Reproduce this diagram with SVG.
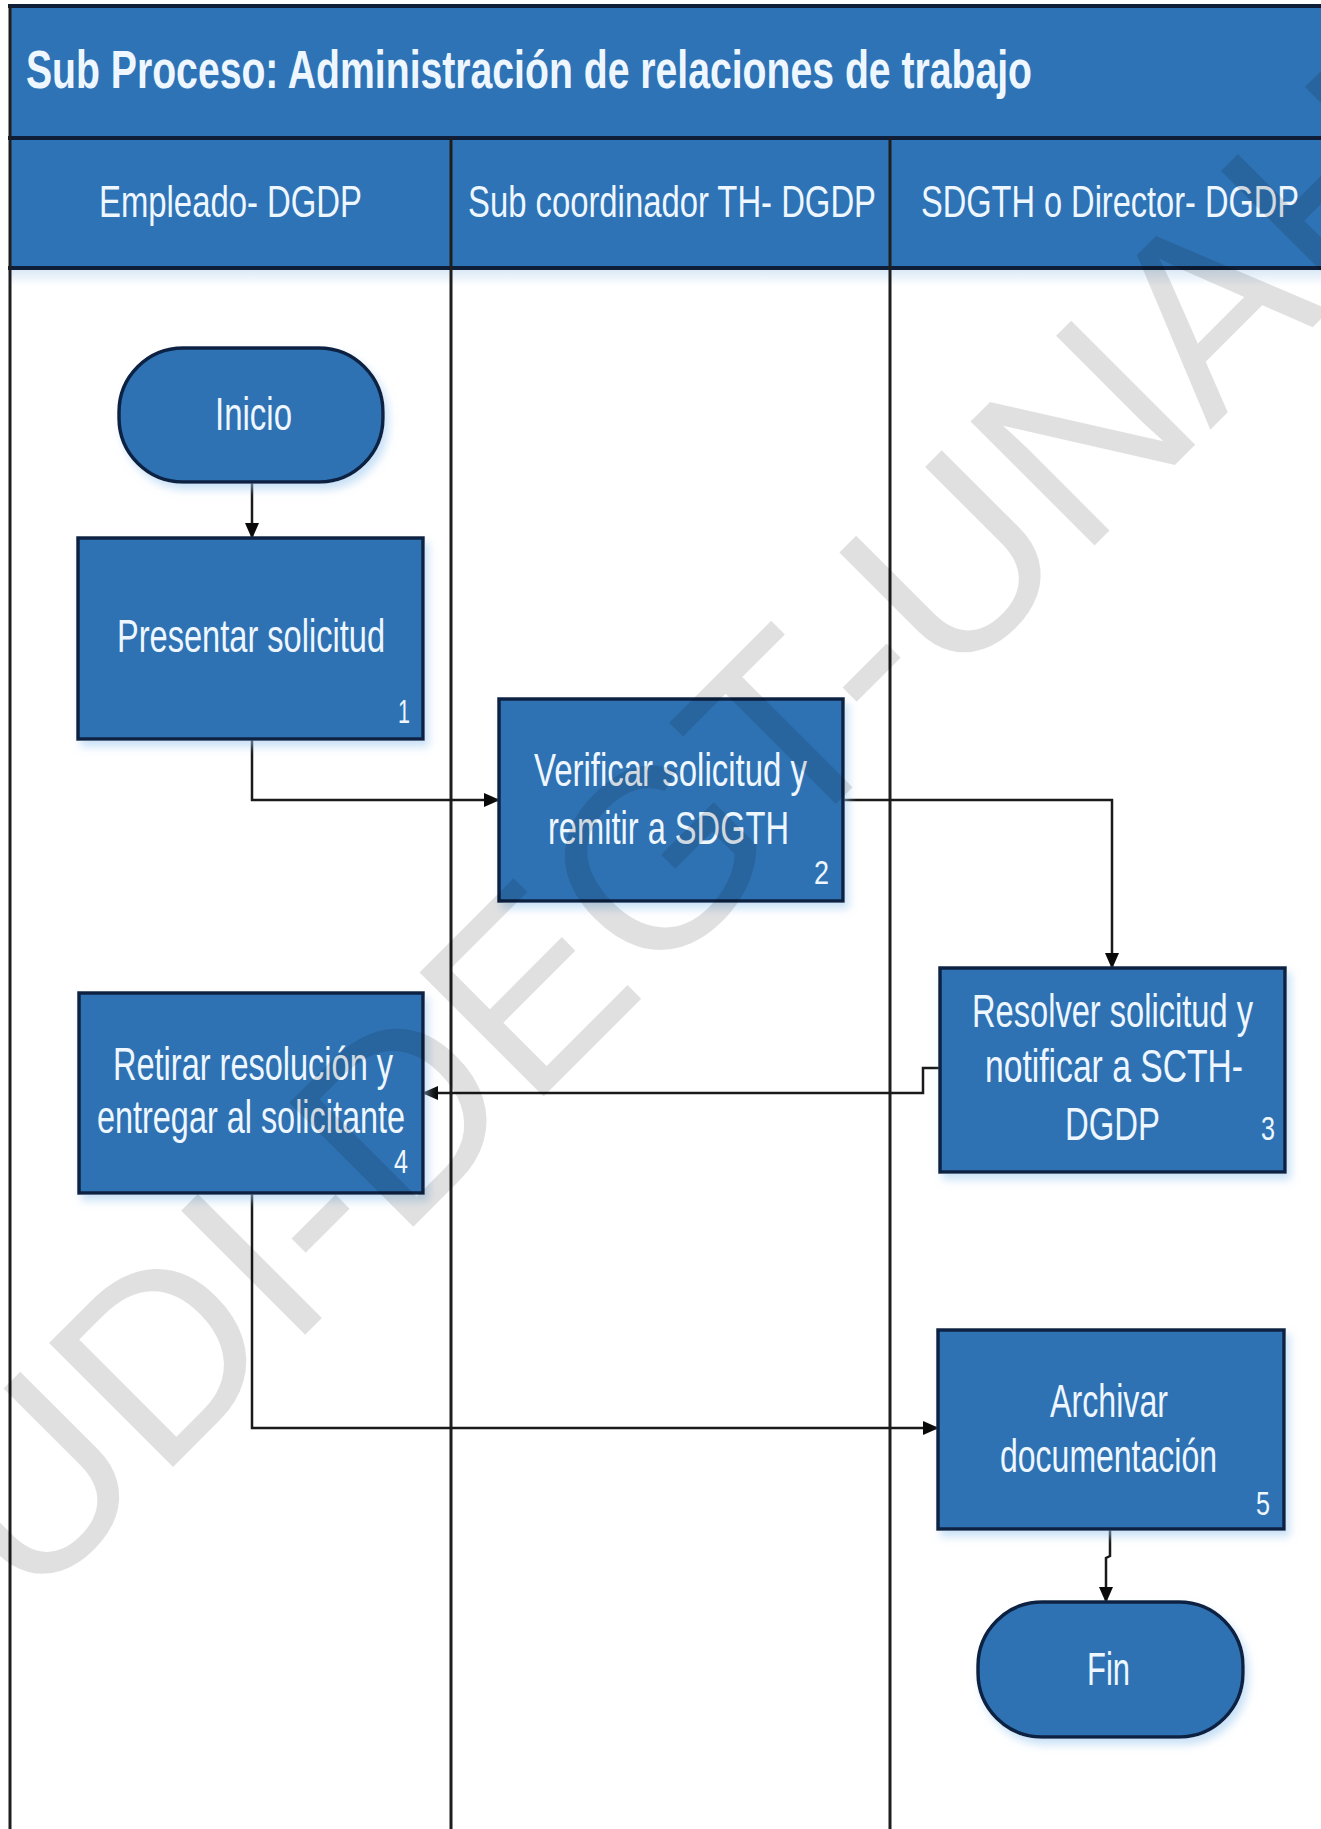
<svg xmlns="http://www.w3.org/2000/svg" width="1321" height="1829" viewBox="0 0 1321 1829">
  <style>
    .band { fill: #2E73B5; }
    .rule { stroke: #0E1E38; stroke-width: 4; }
    .lane { stroke: #1E1E1E; stroke-width: 3; fill: none; }
    .box { fill: #2E72B3; stroke: #0F2343; stroke-width: 3.5; filter: url(#glow); }
    .txt { font-family: "Liberation Sans", Arial, sans-serif; fill: #EEF7FF; }
    .title { font-size: 53px; font-weight: bold; }
    .head { font-size: 44px; }
    .lbl { font-size: 46px; }
    .num { font-size: 33px; }
    .conn path { fill: none; stroke: #1A1A1A; stroke-width: 2.5; }
    .mark { font-family: "Liberation Sans", Arial, sans-serif; font-size: 255px; fill: #000; fill-opacity: 0.12; }
  </style>
  <defs>
    <marker id="arrow" markerUnits="userSpaceOnUse" markerWidth="16" markerHeight="16" viewBox="0 0 16 16" refX="15" refY="8" orient="auto">
      <path d="M0,1 L16,8 L0,15 Z" fill="#0A0A0A"/>
    </marker>
    <filter id="glow" x="-10%" y="-10%" width="125%" height="130%">
      <feDropShadow dx="4" dy="6" stdDeviation="4" flood-color="#9CC8F0" flood-opacity="0.55"/>
    </filter>
    <linearGradient id="fade" x1="0" y1="0" x2="0" y2="1">
      <stop offset="0" stop-color="#D6E6F5"/>
      <stop offset="1" stop-color="#FFFFFF"/>
    </linearGradient>
  </defs>

  <!-- page -->
  <rect width="1321" height="1829" fill="#FFFFFF"/>
  <rect x="10" y="268" width="1311" height="18" fill="url(#fade)"/>

  <!-- title band and lane header band -->
  <g id="header">
    <rect class="band" x="10" y="6" width="1311" height="132"/>
    <rect class="band" x="10" y="138" width="1311" height="130"/>
    <line class="rule" x1="8" y1="6" x2="1321" y2="6"/>
    <line class="rule" x1="8" y1="138" x2="1321" y2="138"/>
    <line class="rule" x1="8" y1="268" x2="1321" y2="268"/>
    <text class="txt title" x="26" y="88" textLength="1006" lengthAdjust="spacingAndGlyphs">Sub Proceso: Administración de relaciones de trabajo</text>
    <text class="txt head" x="99" y="217" textLength="263" lengthAdjust="spacingAndGlyphs">Empleado- DGDP</text>
    <text class="txt head" x="468" y="217" textLength="408" lengthAdjust="spacingAndGlyphs">Sub coordinador TH- DGDP</text>
    <text class="txt head" x="921" y="217" textLength="378" lengthAdjust="spacingAndGlyphs">SDGTH o Director- DGDP</text>
  </g>

  <!-- swimlane dividers -->
  <g id="lanes">
    <line class="lane" x1="10" y1="6" x2="10" y2="1829"/>
    <line class="lane" x1="451" y1="138" x2="451" y2="1829"/>
    <line class="lane" x1="890" y1="138" x2="890" y2="1829"/>
  </g>

  <!-- connectors -->
  <g id="connectors" class="conn">
    <path d="M252,482 L252,538" marker-end="url(#arrow)"/>
    <path d="M252,739 L252,800 L499,800" marker-end="url(#arrow)"/>
    <path d="M843,800 L1112,800 L1112,968" marker-end="url(#arrow)"/>
    <path d="M940,1068 L923,1068 L923,1093 L423,1093" marker-end="url(#arrow)"/>
    <path d="M252,1193 L252,1428 L938,1428" marker-end="url(#arrow)"/>
    <path d="M1110,1529 L1110,1556 L1106,1558 L1106,1602" marker-end="url(#arrow)"/>
  </g>

  <!-- nodes -->
  <g id="inicio">
    <rect class="box" x="119" y="348" width="264" height="134" rx="64" ry="64"/>
    <text class="txt lbl" x="215" y="430" textLength="77" lengthAdjust="spacingAndGlyphs">Inicio</text>
  </g>

  <g id="paso1">
    <rect class="box" x="78" y="538" width="345" height="201"/>
    <text class="txt lbl" x="117" y="652" textLength="268" lengthAdjust="spacingAndGlyphs">Presentar solicitud</text>
    <text class="txt num" x="398" y="723" textLength="12" lengthAdjust="spacingAndGlyphs">1</text>
  </g>

  <g id="paso2">
    <rect class="box" x="499" y="699" width="344" height="202"/>
    <text class="txt lbl" x="534" y="786" textLength="273" lengthAdjust="spacingAndGlyphs">Verificar solicitud y</text>
    <text class="txt lbl" x="548" y="844" textLength="241" lengthAdjust="spacingAndGlyphs">remitir a SDGTH</text>
    <text class="txt num" x="814" y="884" textLength="15" lengthAdjust="spacingAndGlyphs">2</text>
  </g>

  <g id="paso3">
    <rect class="box" x="940" y="968" width="345" height="204"/>
    <text class="txt lbl" x="972" y="1027" textLength="281" lengthAdjust="spacingAndGlyphs">Resolver solicitud y</text>
    <text class="txt lbl" x="985" y="1082" textLength="258" lengthAdjust="spacingAndGlyphs">notificar a  SCTH-</text>
    <text class="txt lbl" x="1065" y="1140" textLength="95" lengthAdjust="spacingAndGlyphs">DGDP</text>
    <text class="txt num" x="1261" y="1140" textLength="14" lengthAdjust="spacingAndGlyphs">3</text>
  </g>

  <g id="paso4">
    <rect class="box" x="79" y="993" width="344" height="200"/>
    <text class="txt lbl" x="113" y="1080" textLength="280" lengthAdjust="spacingAndGlyphs">Retirar resolución y</text>
    <text class="txt lbl" x="97" y="1133" textLength="308" lengthAdjust="spacingAndGlyphs">entregar al solicitante</text>
    <text class="txt num" x="394" y="1173" textLength="14" lengthAdjust="spacingAndGlyphs">4</text>
  </g>

  <g id="paso5">
    <rect class="box" x="938" y="1330" width="346" height="199"/>
    <text class="txt lbl" x="1050" y="1417" textLength="118" lengthAdjust="spacingAndGlyphs">Archivar</text>
    <text class="txt lbl" x="1000" y="1472" textLength="217" lengthAdjust="spacingAndGlyphs">documentación</text>
    <text class="txt num" x="1256" y="1515" textLength="14" lengthAdjust="spacingAndGlyphs">5</text>
  </g>

  <g id="fin">
    <rect class="box" x="978" y="1602" width="265" height="135" rx="64" ry="64"/>
    <text class="txt lbl" x="1087" y="1685" textLength="43" lengthAdjust="spacingAndGlyphs">Fin</text>
  </g>

  <!-- diagonal watermark -->
  <text class="mark" x="28" y="1612" transform="rotate(-45 28 1612)">UDI-DEGT-UNAH</text>
</svg>
